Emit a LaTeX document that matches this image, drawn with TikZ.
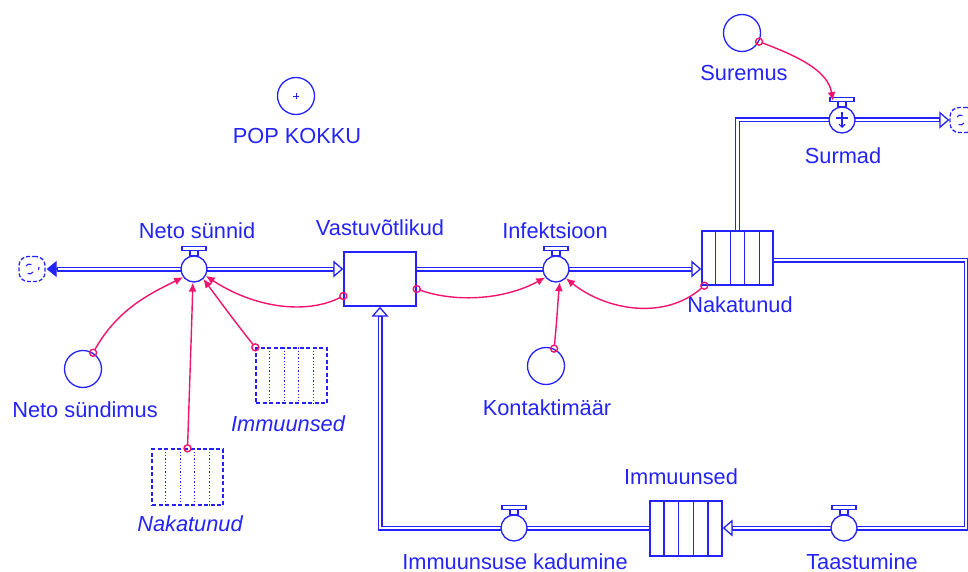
\documentclass[tikz,border=0pt]{standalone}
\usepackage{fontspec}
\setmainfont{Liberation Sans}
\usetikzlibrary{arrows.meta,calc}
\definecolor{vblue}{RGB}{35,35,250}
\definecolor{vlink}{RGB}{240,20,110}

\tikzset{
  flow/.style={draw=vblue, line width=1.3pt, double=white, double distance=2.4pt},
  openhead/.style={draw=vblue, line width=1.3pt, -{Triangle[fill=white, length=10pt, width=17pt]}},
  fullhead/.style={draw=vblue, fill=vblue, line width=1.3pt, -{Triangle[length=10pt, width=16pt]}},
  valvebody/.style={circle, draw=vblue, fill=white, line width=1.3pt, minimum size=26pt, inner sep=0pt},
  handle/.style={draw=vblue, fill=white, line width=1.2pt},
  stockbox/.style={rectangle, draw=vblue, fill=white, line width=1.4pt, inner sep=0pt},
  shadowbox/.style={rectangle, draw=vblue, line width=1.3pt, inner sep=0pt, dash pattern=on 4pt off 2.5pt},
  auxvar/.style={circle, draw=vblue, line width=1.3pt, minimum size=37pt, inner sep=0pt},
  cloudbox/.style={rectangle, rounded corners=9pt, draw=vblue, line width=1.3pt, dash pattern=on 4pt off 2pt,
    minimum width=26pt, minimum height=25pt, inner sep=0pt},
  lbl/.style={text=vblue, font=\fontsize{21.8}{24}\selectfont, inner sep=0pt},
  ilbl/.style={lbl, font=\fontsize{21.8}{24}\selectfont\itshape},
  link/.style={draw=vlink, line width=1.4pt, shorten <=3.5pt, -{Latex[length=9pt, width=8pt]}},
  linkdot/.style={draw=vlink, line width=1.4pt},
}

% valve with its handle: \valve{name}{position}
\newcommand{\valve}[2]{%
  \node[valvebody] (#1) at (#2) {};
  \draw[handle] ([xshift=-4pt]#1.north) rectangle ([xshift=4pt, yshift=5pt]#1.north);
  \draw[handle] ([xshift=-12pt, yshift=5pt]#1.north) rectangle ([xshift=12pt, yshift=9pt]#1.north);
}
% five compartments inside a stock
\newcommand{\compartments}[2]{%
  \foreach \i in {1,...,4}
    \draw[vblue, line width=1.3pt, #2] ($(#1.north west)!\i/5!(#1.north east)$) -- ($(#1.south west)!\i/5!(#1.south east)$);
}
% small marks inside a cloud
\newcommand{\cloudmarks}[1]{%
  \draw[vblue, line width=1.1pt] ([xshift=-6pt, yshift=3pt]#1.center) arc[start angle=150, end angle=60, radius=4pt];
  \draw[vblue, line width=1.1pt] ([xshift=1pt, yshift=-3pt]#1.center) arc[start angle=-30, end angle=-120, radius=4pt];
  \draw[vblue, line width=1.1pt] ([xshift=7pt, yshift=2pt]#1.center) arc[start angle=20, end angle=-40, radius=3pt];
}

\begin{document}
\begin{tikzpicture}[x=1pt, y=-1pt]
\useasboundingbox (0,0) rectangle (968,572);

% ---------- stocks ----------
\node[stockbox, minimum width=72pt, minimum height=54pt] (stockV) at (380,279) {};
\node[stockbox, minimum width=71pt, minimum height=54pt] (stockN) at (737.5,258) {};
\node[stockbox, minimum width=72pt, minimum height=55pt] (stockI) at (686,528.5) {};

% ---------- clouds ----------
\node[cloudbox] (cloudL) at (32,269) {};
\node[cloudbox] (cloudR) at (963,120) {};

% ---------- flows ----------
% Neto sünnid
\draw[flow] ([xshift=-9pt]stockV.west |- 0,269) -- ([xshift=11pt]cloudL.east |- 0,269);
% Infektsioon
\draw[flow] (stockV.east |- 0,269) -- ([xshift=-9pt]stockN.west |- 0,269);
% Surmad
\draw[flow] (stockN.north) |- ([xshift=-9pt]cloudR.west);
% Taastumine
\coordinate (cornerA) at (966,260);
\coordinate (cornerB) at (966,528);
\draw[flow] (stockN.east |- cornerA) -- (cornerA) -- (cornerB) -- ([xshift=9pt]stockI.east |- cornerB);
% Immuunsuse kadumine
\draw[flow] (stockI.west |- cornerB) -| ([yshift=-9pt]stockV.south);

% flow heads
\draw[openhead] ([xshift=-10pt]stockV.west |- 0,269) -- (stockV.west |- 0,269);
\draw[fullhead] ([xshift=12pt]cloudL.east |- 0,269) -- ([xshift=1pt]cloudL.east |- 0,269);
\draw[openhead] ([xshift=-10pt]stockN.west |- 0,269) -- (stockN.west |- 0,269);
\draw[openhead] ([xshift=-10pt]cloudR.west) -- (cloudR.west);
\draw[openhead] ([xshift=10pt]stockI.east |- cornerB) -- (stockI.east |- cornerB);
\draw[openhead] ([yshift=-10pt]stockV.south) -- (stockV.south);

\compartments{stockN}{}
\compartments{stockI}{}
\cloudmarks{cloudL}
\cloudmarks{cloudR}

% ---------- valves ----------
\valve{vNetoS}{194,269}
\valve{vInf}{556,269}
\valve{vSurmad}{842,120}
\valve{vImKad}{514,528}
\valve{vTaast}{844,528}
\draw[vblue, line width=1.1pt] ([xshift=-6pt, yshift=2pt]vSurmad.center) -- ([xshift=6pt, yshift=2pt]vSurmad.center);
\draw[vblue, line width=1.1pt, -{Straight Barb[length=3pt, width=6pt]}] ([yshift=8pt]vSurmad.center) -- ([yshift=-8pt]vSurmad.center);

% ---------- auxiliaries ----------
\node[auxvar] (auxSuremus) at (742,33) {};
\node[auxvar] (auxPop) at (296,96) {};
\draw[vblue, line width=0.9pt] ([xshift=-3pt]auxPop.center) -- ([xshift=3pt]auxPop.center)
  ([yshift=-3pt]auxPop.center) -- ([yshift=3pt]auxPop.center);
\node[auxvar] (auxNetoSd) at (83,369) {};
\node[auxvar] (auxKontakt) at (546,366) {};

% ---------- shadow stocks ----------
\node[shadowbox, minimum width=71pt, minimum height=56pt] (shadowN) at (187.5,477) {};
\node[shadowbox, minimum width=71pt, minimum height=55pt] (shadowI) at (291.5,375.5) {};
\compartments{shadowN}{dotted}
\compartments{shadowI}{dotted}

% ---------- labels ----------
\node[lbl] (tNetoS) at (197,231) {Neto sünnid};
\node[lbl] (tVast) at (380,228) {Vastuvõtlikud};
\node[lbl] (tInf) at (555,231) {Infektsioon};
\node[lbl] (tNak) at (740,305) {Nakatunud};
\node[lbl] (tSurem) at (744,73) {Suremus};
\node[lbl] (tSurmad) at (843,156) {Surmad};
\node[lbl] (tPop) at (297,136) {POP KOKKU};
\node[lbl] (tNetoSd) at (85,410) {Neto sündimus};
\node[ilbl] (tImS) at (288,424) {Immuunsed};
\node[ilbl] (tNakS) at (190,524) {Nakatunud};
\node[lbl] (tKont) at (547,408) {Kontaktimäär};
\node[lbl] (tIm) at (681,477) {Immuunsed};
\node[lbl] (tImKad) at (515,561.5) {Immuunsuse kadumine};
\node[lbl] (tTaast) at (862,561.5) {Taastumine};

% ---------- links ----------
\coordinate (surmadIn) at ([xshift=-9pt, yshift=19pt]vSurmad.center);

\draw[linkdot] (auxNetoSd.58) circle[radius=3.5pt];
\draw[link] (auxNetoSd.58) .. controls +(25,-45) and +(-30,15) .. (vNetoS.-143);

\draw[linkdot] (shadowN.north) circle[radius=3.5pt];
\draw[link] (shadowN.north) .. controls +(2,-60) and +(-1,40) .. (vNetoS.-95);

\draw[linkdot] (shadowI.north west) circle[radius=3.5pt];
\draw[link] (shadowI.north west) .. controls +(-20,-25) and +(15,20) .. (vNetoS.-47);

\draw[linkdot] ([yshift=-17pt]stockV.west) circle[radius=3.5pt];
\draw[link] ([yshift=-17pt]stockV.west) .. controls +(-40,20) and +(45,30) .. (vNetoS.-30);

\draw[linkdot] ([yshift=-10pt]stockV.east) circle[radius=3.5pt];
\draw[link] ([yshift=-10pt]stockV.east) .. controls +(40,14) and +(-40,22) .. (vInf.-142);

\draw[linkdot] (auxKontakt.65) circle[radius=3.5pt];
\draw[link] (auxKontakt.65) .. controls +(3,-30) and +(-2,20) .. (vInf.-74);

\draw[linkdot] ([xshift=3pt]stockN.south west) circle[radius=3.5pt];
\draw[link] ([xshift=3pt]stockN.south west) .. controls +(-40,35) and +(40,32) .. (vInf.-43);

\draw[linkdot] (auxSuremus.-27) circle[radius=3.5pt];
\draw[link] (auxSuremus.-27) .. controls +(40,15) and +(-5,-30) .. (surmadIn);
\end{tikzpicture}
\end{document}
